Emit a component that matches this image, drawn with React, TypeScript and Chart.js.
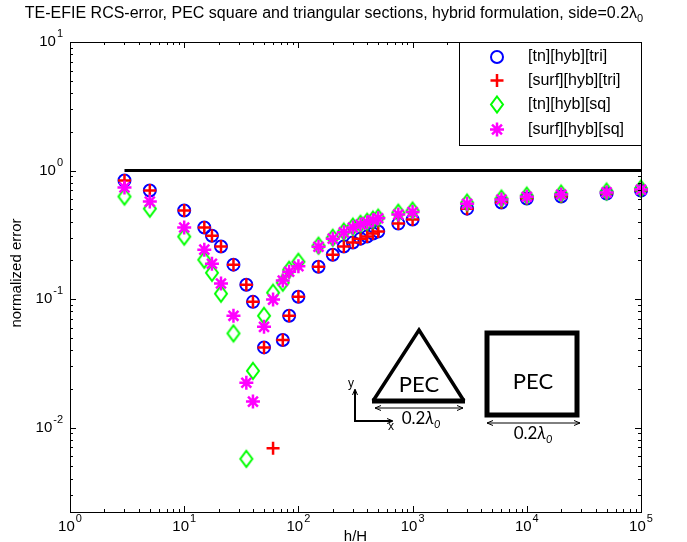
import { useEffect, useRef } from "react";
import { Chart, registerables } from "chart.js";

Chart.register(...registerables);

// h/H sample points
const hRatio = [
  3, 5, 10, 15, 17.5, 21, 27, 35, 40, 50, 60, 73, 83, 100, 150, 200, 250, 300,
  350, 400, 450, 500, 750, 1000, 3000, 6000, 10000, 20000, 50000, 100000,
];

// normalized RCS error per formulation
const tnHybTri = [
  0.836, 0.698, 0.488, 0.36, 0.311, 0.256, 0.185, 0.129, 0.095, 0.042, null, 0.048,
  0.074, 0.104, 0.178, 0.221, 0.256, 0.275, 0.295, 0.306, 0.323, 0.335, 0.386,
  0.415, 0.505, 0.563, 0.605, 0.627, 0.662, 0.698,
];
const surfHybTri = [
  0.836, 0.698, 0.488, 0.36, 0.311, 0.256, 0.185, 0.129, 0.095, 0.042, 0.0069,
  0.048, 0.074, 0.104, 0.178, 0.221, 0.256, 0.275, 0.295, 0.306, 0.323, 0.335,
  0.386, 0.415, 0.505, 0.563, 0.605, 0.627, 0.662, 0.698,
];
const tnHybSq = [
  0.627, 0.505, 0.306, 0.202, 0.16, 0.11, 0.054, 0.0057, 0.0276, 0.074, 0.112,
  0.134, 0.169, 0.195, 0.26, 0.3, 0.335, 0.366, 0.385, 0.4, 0.415, 0.43, 0.47,
  0.488, 0.563, 0.605, 0.638, 0.662, 0.686, 0.724,
];
const surfHybSq = [
  0.737, 0.573, 0.36, 0.242, 0.188, 0.132, 0.074, 0.0223, 0.0159, 0.0607, 0.099,
  0.139, 0.163, 0.18, 0.255, 0.295, 0.33, 0.36, 0.38, 0.395, 0.41, 0.425, 0.455,
  0.475, 0.55, 0.595, 0.625, 0.65, 0.675, 0.71,
];

// reference level (error = 1)
const refX = [3, 100000];
const refY = [1, 1];

// axis limits and decade labels
const xMin = 1;
const xMax = 100000;
const yMin = 0.0022;
const yMax = 10;
const xDecades = [0, 1, 2, 3, 4, 5];
const yDecades = [1, 0, -1, -2];

const seriesNames = ["[tn][hyb][tri]", "[surf][hyb][tri]", "[tn][hyb][sq]", "[surf][hyb][sq]"];

const TITLE = "TE-EFIE RCS-error, PEC square and triangular sections, hybrid formulation, side=0.2\u03bb";
const AXIS_FONT = "'Liberation Sans', Arial, sans-serif";
const SHAPE_FONT = "Lato, 'Open Sans', sans-serif";

const BLUE = "#0000ff";
const RED = "#ff0000";
const GREEN = "#00ff00";
const MAGENTA = "#ff00ff";

function toPoints(values: (number | null)[]) {
  const pts: { x: number; y: number }[] = [];
  values.forEach((v, i) => {
    if (v !== null) pts.push({ x: hRatio[i], y: v });
  });
  return pts;
}

function diamondPath(ctx: CanvasRenderingContext2D, x: number, y: number) {
  ctx.beginPath();
  ctx.moveTo(x, y - 8);
  ctx.lineTo(x + 6, y);
  ctx.lineTo(x, y + 8);
  ctx.lineTo(x - 6, y);
  ctx.closePath();
}

function makeDiamondImage() {
  const c = document.createElement("canvas");
  c.width = 18;
  c.height = 22;
  const g = c.getContext("2d")!;
  g.strokeStyle = GREEN;
  g.lineWidth = 2;
  g.lineJoin = "miter";
  diamondPath(g, 9, 11);
  g.stroke();
  return c;
}

function drawLegendMarker(ctx: CanvasRenderingContext2D, kind: number, x: number, y: number) {
  ctx.save();
  ctx.lineCap = "butt";
  if (kind === 0) {
    ctx.strokeStyle = BLUE;
    ctx.lineWidth = 2;
    ctx.beginPath();
    ctx.arc(x, y, 6, 0, Math.PI * 2);
    ctx.stroke();
  } else if (kind === 1) {
    ctx.strokeStyle = RED;
    ctx.lineWidth = 2.5;
    ctx.beginPath();
    ctx.moveTo(x - 6.5, y);
    ctx.lineTo(x + 6.5, y);
    ctx.moveTo(x, y - 6.5);
    ctx.lineTo(x, y + 6.5);
    ctx.stroke();
  } else if (kind === 2) {
    ctx.strokeStyle = GREEN;
    ctx.lineWidth = 2;
    diamondPath(ctx, x, y);
    ctx.stroke();
  } else {
    ctx.strokeStyle = MAGENTA;
    ctx.lineWidth = 2.5;
    const r = 7;
    const d = r * Math.SQRT1_2;
    ctx.beginPath();
    ctx.moveTo(x - r, y);
    ctx.lineTo(x + r, y);
    ctx.moveTo(x, y - r);
    ctx.lineTo(x, y + r);
    ctx.moveTo(x - d, y - d);
    ctx.lineTo(x + d, y + d);
    ctx.moveTo(x - d, y + d);
    ctx.lineTo(x + d, y - d);
    ctx.stroke();
  }
  ctx.restore();
}

// "10" with a raised exponent; align is the anchor of the whole label
function drawPower(
  ctx: CanvasRenderingContext2D,
  exp: string,
  x: number,
  y: number,
  align: "center" | "right"
) {
  ctx.save();
  ctx.fillStyle = "#000";
  ctx.textBaseline = "middle";
  ctx.textAlign = "left";
  ctx.font = `15px ${AXIS_FONT}`;
  const wBase = ctx.measureText("10").width;
  ctx.font = `11px ${AXIS_FONT}`;
  const wExp = ctx.measureText(exp).width;
  const total = wBase + 1 + wExp;
  const left = align === "center" ? x - total / 2 : x - total;
  ctx.font = `15px ${AXIS_FONT}`;
  ctx.fillText("10", left, y);
  ctx.font = `11px ${AXIS_FONT}`;
  ctx.fillText(exp, left + wBase + 1, y - 8);
  ctx.restore();
}

function drawArrowHead(ctx: CanvasRenderingContext2D, x: number, y: number, dx: number, dy: number) {
  // open arrowhead at (x,y) pointing along (dx,dy)
  const len = 6;
  const half = 2.5;
  const px = -dy;
  const py = dx;
  ctx.beginPath();
  ctx.moveTo(x - dx * len + px * half, y - dy * len + py * half);
  ctx.lineTo(x, y);
  ctx.lineTo(x - dx * len - px * half, y - dy * len - py * half);
  ctx.stroke();
}

function drawSideLabel(ctx: CanvasRenderingContext2D, cx: number, baseline: number) {
  ctx.save();
  ctx.fillStyle = "#000";
  ctx.textBaseline = "alphabetic";
  ctx.textAlign = "left";
  const a = "0.2";
  ctx.font = `17px ${SHAPE_FONT}`;
  const wa = ctx.measureText(a).width;
  ctx.font = `italic 17px ${SHAPE_FONT}`;
  const wl = ctx.measureText("\u03bb").width;
  ctx.font = `italic 11px ${SHAPE_FONT}`;
  const w0 = ctx.measureText("0").width;
  const total = wa + wl + w0;
  let x = cx - total / 2;
  ctx.font = `17px ${SHAPE_FONT}`;
  ctx.fillText(a, x, baseline);
  x += wa;
  ctx.font = `italic 17px ${SHAPE_FONT}`;
  ctx.fillText("\u03bb", x, baseline);
  x += wl;
  ctx.font = `italic 11px ${SHAPE_FONT}`;
  ctx.fillText("0", x, baseline + 4);
  ctx.restore();
}

function drawDoubleArrow(ctx: CanvasRenderingContext2D, x1: number, x2: number, y: number) {
  ctx.save();
  ctx.strokeStyle = "#000";
  ctx.lineWidth = 1;
  ctx.beginPath();
  ctx.moveTo(x1, y);
  ctx.lineTo(x2, y);
  ctx.stroke();
  drawArrowHead(ctx, x1, y, -1, 0);
  drawArrowHead(ctx, x2, y, 1, 0);
  ctx.restore();
}

const matlabFrame = {
  id: "matlabFrame",
  beforeDraw(chart: Chart) {
    const { ctx, width, height } = chart;
    ctx.save();
    ctx.fillStyle = "#fff";
    ctx.fillRect(0, 0, width, height);
    ctx.restore();
  },
  afterDatasetsDraw(chart: Chart) {
    const { ctx, chartArea } = chart;
    const xs = chart.scales.x;
    const ys = chart.scales.y;
    const { left, right, top, bottom } = chartArea;

    ctx.save();
    ctx.strokeStyle = "#000";
    ctx.lineWidth = 1;

    // ticks on all four sides, pointing inward
    ctx.beginPath();
    for (let d = 0; d <= 5; d++) {
      for (let k = 1; k <= 9; k++) {
        const v = k * Math.pow(10, d);
        if (v < xMin || v > xMax) continue;
        const px = Math.round(xs.getPixelForValue(v)) + 0.5;
        const len = k === 1 ? 6 : 3;
        ctx.moveTo(px, bottom);
        ctx.lineTo(px, bottom - len);
        ctx.moveTo(px, top);
        ctx.lineTo(px, top + len);
      }
    }
    for (let d = -3; d <= 1; d++) {
      for (let k = 1; k <= 9; k++) {
        const v = k * Math.pow(10, d);
        if (v < yMin || v > yMax) continue;
        const py = Math.round(ys.getPixelForValue(v)) + 0.5;
        const len = k === 1 ? 6 : 3;
        ctx.moveTo(left, py);
        ctx.lineTo(left + len, py);
        ctx.moveTo(right, py);
        ctx.lineTo(right - len, py);
      }
    }
    ctx.stroke();

    // axes box
    ctx.strokeRect(Math.round(left) + 0.5, Math.round(top) + 0.5, Math.round(right - left), Math.round(bottom - top));

    // tick labels
    xDecades.forEach((d) => {
      drawPower(ctx, String(d), xs.getPixelForValue(Math.pow(10, d)), bottom + 15, "center");
    });
    yDecades.forEach((d) => {
      drawPower(ctx, d < 0 ? "-" + String(-d) : String(d), left - 7, ys.getPixelForValue(Math.pow(10, d)), "right");
    });

    // axis titles
    ctx.fillStyle = "#000";
    ctx.font = `15px ${AXIS_FONT}`;
    ctx.textAlign = "center";
    ctx.textBaseline = "middle";
    ctx.fillText("h/H", (left + right) / 2, bottom + 25);
    ctx.save();
    ctx.translate(17, (top + bottom) / 2 - 4);
    ctx.rotate(-Math.PI / 2);
    ctx.fillText("normalized error", 0, 0);
    ctx.restore();

    // title with subscript
    ctx.font = `16px ${AXIS_FONT}`;
    ctx.textAlign = "left";
    ctx.textBaseline = "alphabetic";
    const wTitle = ctx.measureText(TITLE).width;
    ctx.font = `11px ${AXIS_FONT}`;
    const wSub = ctx.measureText("0").width;
    const tx = 334 - (wTitle + wSub) / 2;
    ctx.font = `16px ${AXIS_FONT}`;
    ctx.fillText(TITLE, tx, 18);
    ctx.font = `11px ${AXIS_FONT}`;
    ctx.fillText("0", tx + wTitle, 22);

    // legend
    const lx = right - 182;
    const ly = top;
    const lw = 182;
    const lh = 103;
    ctx.fillStyle = "#fff";
    ctx.fillRect(lx, ly, lw, lh);
    ctx.strokeStyle = "#000";
    ctx.lineWidth = 1;
    ctx.strokeRect(Math.round(lx) + 0.5, Math.round(ly) + 0.5, lw, lh);
    const rows = [15, 38.5, 62.5, 87.5];
    seriesNames.forEach((name, i) => {
      const ry = ly + rows[i];
      drawLegendMarker(ctx, i, lx + 38, ry);
      ctx.fillStyle = "#000";
      ctx.font = `16px ${AXIS_FONT}`;
      ctx.textAlign = "left";
      ctx.textBaseline = "middle";
      ctx.fillText(name, lx + 69, ry);
    });

    // cross-section sketches
    const ox = left;
    const oy = top;
    ctx.strokeStyle = "#000";
    ctx.lineJoin = "miter";

    // triangle
    ctx.lineWidth = 3.5;
    ctx.beginPath();
    ctx.moveTo(ox + 303, oy + 359);
    ctx.lineTo(ox + 349, oy + 288);
    ctx.lineTo(ox + 394, oy + 359);
    ctx.stroke();
    ctx.lineWidth = 5;
    ctx.beginPath();
    ctx.moveTo(ox + 302, oy + 359);
    ctx.lineTo(ox + 395, oy + 359);
    ctx.stroke();

    ctx.fillStyle = "#000";
    ctx.font = `22px ${SHAPE_FONT}`;
    ctx.textAlign = "center";
    ctx.textBaseline = "middle";
    ctx.fillText("PEC", ox + 349, oy + 343);

    drawDoubleArrow(ctx, ox + 305, ox + 393, oy + 366);
    drawSideLabel(ctx, ox + 351, oy + 382);

    // square
    ctx.lineWidth = 5;
    ctx.strokeRect(ox + 417, oy + 291, 90, 82);
    ctx.fillText("PEC", ox + 463, oy + 340);
    drawDoubleArrow(ctx, ox + 417, ox + 510, oy + 381);
    drawSideLabel(ctx, ox + 463, oy + 397);

    // coordinate axes glyph
    ctx.lineWidth = 2;
    ctx.beginPath();
    ctx.moveTo(ox + 285, oy + 348);
    ctx.lineTo(ox + 285, oy + 379);
    ctx.lineTo(ox + 322, oy + 379);
    ctx.stroke();
    ctx.lineWidth = 1;
    drawArrowHead(ctx, ox + 285, oy + 347, 0, -1);
    drawArrowHead(ctx, ox + 323, oy + 379, 1, 0);
    ctx.font = `12px ${AXIS_FONT}`;
    ctx.fillText("y", ox + 281, oy + 342);
    ctx.fillText("x", ox + 321, oy + 385);

    ctx.restore();
  },
};

export default function App() {
  const canvasRef = useRef<HTMLCanvasElement>(null);

  useEffect(() => {
    const canvas = canvasRef.current;
    if (!canvas) return;
    const diamond = makeDiamondImage();

    const chart = new Chart(canvas, {
      type: "scatter",
      data: {
        datasets: [
          {
            label: "error = 1",
            data: refX.map((x, i) => ({ x, y: refY[i] })),
            showLine: true,
            borderColor: "#000",
            borderWidth: 3,
            pointRadius: 0,
            order: 5,
            clip: false,
          },
          {
            label: seriesNames[0],
            data: toPoints(tnHybTri),
            pointStyle: "circle",
            pointRadius: 6,
            borderWidth: 2,
            borderColor: BLUE,
            backgroundColor: "rgba(0,0,0,0)",
            order: 4,
            clip: false,
          },
          {
            label: seriesNames[1],
            data: toPoints(surfHybTri),
            pointStyle: "cross",
            pointRadius: 6.5,
            borderWidth: 2.5,
            borderColor: RED,
            backgroundColor: RED,
            order: 3,
            clip: false,
          },
          {
            label: seriesNames[2],
            data: toPoints(tnHybSq),
            pointStyle: diamond,
            pointRadius: 8,
            borderColor: GREEN,
            backgroundColor: GREEN,
            order: 2,
            clip: false,
          },
          {
            label: seriesNames[3],
            data: toPoints(surfHybSq),
            pointStyle: "star",
            pointRadius: 7,
            borderWidth: 2.5,
            borderColor: MAGENTA,
            backgroundColor: MAGENTA,
            order: 1,
            clip: false,
          },
        ],
      },
      options: {
        responsive: false,
        animation: false,
        devicePixelRatio: 1,
        layout: { padding: { left: 70, top: 42, right: 46, bottom: 30 } },
        scales: {
          x: { type: "logarithmic", min: xMin, max: xMax, display: false },
          y: { type: "logarithmic", min: yMin, max: yMax, display: false },
        },
        plugins: {
          legend: { display: false },
          tooltip: { enabled: false },
        },
      },
      plugins: [matlabFrame],
    });

    return () => chart.destroy();
  }, []);

  return (
    <div style={{ position: "fixed", left: 0, top: 0, width: 687, height: 542, background: "#fff" }}>
      <canvas ref={canvasRef} width={687} height={542} style={{ display: "block", width: 687, height: 542 }} />
    </div>
  );
}
